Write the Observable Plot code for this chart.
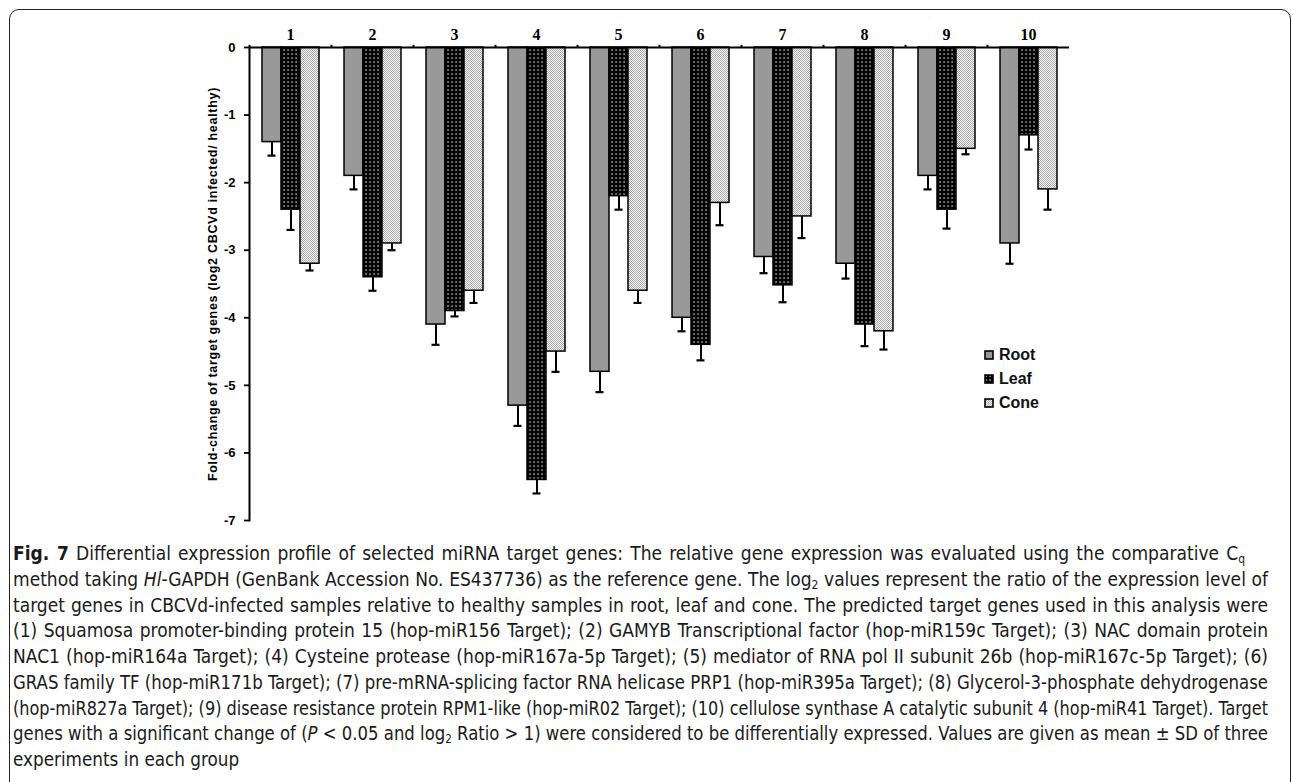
<!DOCTYPE html>
<html>
<head>
<meta charset="utf-8">
<script src="https://cdn.jsdelivr.net/npm/d3@7"></script>
<script src="https://cdn.jsdelivr.net/npm/@observablehq/plot@0.6"></script>
<style>
  html, body { margin: 0; padding: 0; background: #fff; }
  body { width: 1292px; height: 782px; overflow: hidden; position: relative; font-family: "Liberation Sans", Arial, sans-serif; }
  #chart { position: absolute; left: 0; top: 0; }
  #chart g[aria-label="y-axis tick label"] text { font: bold 13px "Liberation Sans", Arial, sans-serif; }
  #chart g[aria-label="y-axis label"] text { font: bold 12.5px "Liberation Sans", Arial, sans-serif; letter-spacing: 0.7px; }
  #chart g[aria-label="fx-axis tick label"] text { font: bold 16px "Liberation Serif", "Times New Roman", serif; }
  #chart [aria-label="frame"], #chart [aria-label="frame"] * { stroke-width: 2px; }
  #chart g[aria-label="y-axis tick"] path, #chart g[aria-label="y-axis tick"] { stroke-width: 1.8px; }
  #frame { position: absolute; left: 9px; top: 9px; width: 1282px; height: 820px; border: 1.6px solid #222; border-radius: 10px; box-sizing: border-box; pointer-events: none; }
  #legend { position: absolute; left: 984px; top: 343px; font: bold 16px "Liberation Sans", Arial, sans-serif; color: #111; }
  #legend .item { display: flex; align-items: center; height: 24px; }
  #legend svg { margin-right: 5px; }
  .cap { position: absolute; left: 13px; white-space: nowrap; font-family: "Liberation Sans Narrow", "DejaVu Sans Condensed", "Open Sans", sans-serif; font-size: 19px; line-height: 26px; color: #1a1a1a; transform-origin: 0 50%; }
  .cap b { font-weight: bold; }
  .cap sub { font-size: 12px; line-height: 0; vertical-align: -3px; }
</style>
</head>
<body>
<svg width="0" height="0" style="position:absolute">
  <defs>
    <pattern id="leafPat" width="4" height="4" patternUnits="userSpaceOnUse">
      <rect width="4" height="4" fill="#050505"></rect>
      <rect x="1.4" y="1.4" width="1.3" height="1.3" fill="#e8e8e8"></rect>
    </pattern>
    <pattern id="conePat" width="2" height="2" patternUnits="userSpaceOnUse">
      <rect width="2" height="2" fill="#fafafa"></rect>
      <rect x="0" y="0" width="1" height="1" fill="#a8a8a8"></rect>
      <rect x="1" y="1" width="1" height="1" fill="#a8a8a8"></rect>
    </pattern>
  </defs>
</svg>
<div id="chart"></div>
<div id="legend"></div>
<div id="caption"></div>
<div id="frame"></div>
<script>
// ---- data ----
const groups = ["1", "2", "3", "4", "5", "6", "7", "8", "9", "10"];
const series = ["Root", "Leaf", "Cone"];
const rootVals = [-1.4, -1.9, -4.1, -5.3, -4.8, -4.0, -3.1, -3.2, -1.9, -2.9];
const leafVals = [-2.4, -3.4, -3.9, -6.4, -2.2, -4.4, -3.52, -4.1, -2.4, -1.3];
const coneVals = [-3.2, -2.9, -3.6, -4.5, -3.6, -2.3, -2.5, -4.2, -1.5, -2.1];
const rootSD = [0.2, 0.2, 0.3, 0.3, 0.3, 0.2, 0.24, 0.22, 0.2, 0.3];
const leafSD = [0.3, 0.2, 0.08, 0.2, 0.2, 0.23, 0.25, 0.32, 0.28, 0.21];
const coneSD = [0.1, 0.1, 0.18, 0.3, 0.18, 0.33, 0.32, 0.27, 0.08, 0.3];
const yTicks = [0, -1, -2, -3, -4, -5, -6, -7];
const yLabel = "Fold-change of target genes (log2 CBCVd infected/ healthy)";
const seriesFill = {Root: "#999999", Leaf: "url(#leafPat)", Cone: "url(#conePat)"};

const valuesBySeries = {Root: rootVals, Leaf: leafVals, Cone: coneVals};
const sdBySeries = {Root: rootSD, Leaf: leafSD, Cone: coneSD};
const data = groups.flatMap((g, i) => series.map(s => ({
  group: g, series: s, value: valuesBySeries[s][i], sd: sdBySeries[s][i]
})));

const barMarks = series.map(s => Plot.barY(data.filter(d => d.series === s), {
  fx: "group", x: "series", y: "value", fill: seriesFill[s], stroke: "#000", strokeWidth: 1.5
}));

const plot = Plot.plot({
  width: 1292,
  height: 530,
  marginLeft: 247,
  marginRight: 222,
  marginTop: 47,
  marginBottom: 10,
  style: {background: "transparent", fontFamily: "'Liberation Sans', Arial, sans-serif", color: "#000"},
  fx: {domain: groups, padding: 0, axis: "top", tickSize: 0, tickPadding: 8, label: null},
  x: {domain: series, paddingInner: 0, paddingOuter: 0.625, axis: null},
  y: {domain: [-7, 0], ticks: yTicks, tickSize: 5, tickPadding: 9, line: true,
      tickFormat: d => d === 0 ? "0" : "-" + Math.abs(d),
      label: yLabel, labelAnchor: "center", labelOffset: 41, labelArrow: "none"},
  marks: [
    ...barMarks,
    Plot.ruleX(data, {fx: "group", x: "series", y1: "value", y2: d => d.value - d.sd, stroke: "#000", strokeWidth: 2}),
    Plot.tickY(data, {fx: "group", x: "series", y: d => d.value - d.sd, insetLeft: 5.5, insetRight: 5.5, stroke: "#000", strokeWidth: 2.2}),
    Plot.ruleY([0], {stroke: "#000", strokeWidth: 1.8}),
    Plot.dot([0], {frameAnchor: "top-left", r: 1.2, fill: "#000", dy: -1.5})
  ]
});
document.getElementById("chart").appendChild(plot);

// ---- legend ----
const legend = document.getElementById("legend");
series.forEach(s => {
  const item = document.createElement("div");
  item.className = "item";
  item.innerHTML = `<svg width="10" height="10"><rect x="1" y="1" width="8" height="8" fill="${seriesFill[s]}" stroke="#000" stroke-width="1.6"></rect></svg><span>${s}</span>`;
  legend.appendChild(item);
});

// ---- caption ----
const captionLines = [
  "<b>Fig. 7</b> Differential expression profile of selected miRNA target genes: The relative gene expression was evaluated using the comparative C<sub>q</sub>",
  "method taking <i>Hl</i>-GAPDH (GenBank Accession No. ES437736) as the reference gene. The log<sub>2</sub> values represent the ratio of the expression level of",
  "target genes in CBCVd-infected samples relative to healthy samples in root, leaf and cone. The predicted target genes used in this analysis were",
  "(1) Squamosa promoter-binding protein 15 (hop-miR156 Target); (2) GAMYB Transcriptional factor (hop-miR159c Target); (3) NAC domain protein",
  "NAC1 (hop-miR164a Target); (4) Cysteine protease (hop-miR167a-5p Target); (5) mediator of RNA pol II subunit 26b (hop-miR167c-5p Target); (6)",
  "GRAS family TF (hop-miR171b Target); (7) pre-mRNA-splicing factor RNA helicase PRP1 (hop-miR395a Target); (8) Glycerol-3-phosphate dehydrogenase",
  "(hop-miR827a Target); (9) disease resistance protein RPM1-like (hop-miR02 Target); (10) cellulose synthase A catalytic subunit 4 (hop-miR41 Target). Target",
  "genes with a significant change of (<i>P</i> &lt; 0.05 and log<sub>2</sub> Ratio &gt; 1) were considered to be differentially expressed. Values are given as mean ± SD of three",
  "experiments in each group"
];
const lineEnds = [1245, 1268, 1268, 1268, 1268, 1268, 1268, 1268, null];
const cap = document.getElementById("caption");
const scales = [];
const els = captionLines.map((html, i) => {
  const el = document.createElement("div");
  el.className = "cap";
  el.innerHTML = html;
  el.style.top = (553 + 25.75 * i - 13) + "px";
  cap.appendChild(el);
  return el;
});
els.forEach((el, i) => {
  if (lineEnds[i] == null) return;
  const w = el.getBoundingClientRect().width;
  const target = lineEnds[i] - 13;
  if (w > target) {
    el.style.transform = `scaleX(${target / w})`;
    scales.push(target / w);
  } else {
    const spaces = (el.textContent.match(/ /g) || []).length;
    if (spaces) el.style.wordSpacing = ((target - w) / spaces) + "px";
    scales.push(1);
  }
});
const meanScale = scales.reduce((a, b) => a + b, 0) / scales.length;
els.forEach((el, i) => {
  if (lineEnds[i] == null) el.style.transform = `scaleX(${meanScale})`;
});
</script>
</body>
</html>
